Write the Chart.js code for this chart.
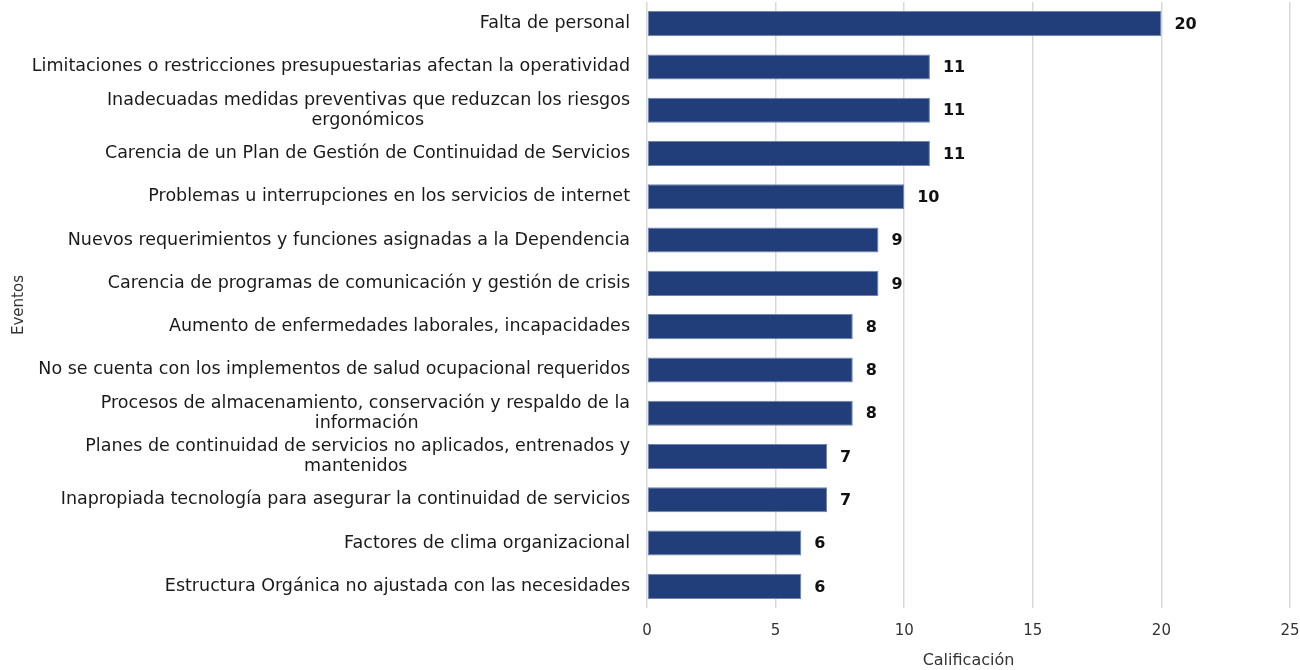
<!DOCTYPE html>
<html>
<head>
<meta charset="utf-8">
<script src="https://cdn.jsdelivr.net/npm/chart.js@4"></script>
<style>
html,body{margin:0;padding:0;background:#fff;}
#wrap{width:1300px;height:670px;}
</style>
</head>
<body>
<div id="wrap"><canvas id="c" width="1300" height="670"></canvas></div>
<script>
const categories = [
  "Falta de personal",
  "Limitaciones o restricciones presupuestarias afectan la operatividad",
  ["Inadecuadas medidas preventivas que reduzcan los riesgos", "ergonómicos"],
  "Carencia de un Plan de Gestión de Continuidad de Servicios",
  "Problemas u interrupciones en los servicios de internet",
  "Nuevos requerimientos y funciones asignadas a la Dependencia",
  "Carencia de programas de comunicación y gestión de crisis",
  "Aumento de enfermedades laborales, incapacidades",
  "No se cuenta con los implementos de salud ocupacional requeridos",
  ["Procesos de almacenamiento, conservación y respaldo de la", "información"],
  ["Planes de continuidad de servicios no aplicados, entrenados y", "mantenidos"],
  "Inapropiada tecnología para asegurar la continuidad de servicios",
  "Factores de clima organizacional",
  "Estructura Orgánica no ajustada con las necesidades"
];
const values = [20, 11, 11, 11, 10, 9, 9, 8, 8, 8, 7, 7, 6, 6];
const xTicks = [0, 5, 10, 15, 20, 25];

const FONT = "'DejaVu Sans', Verdana, sans-serif";
const Y_SIZE = 17.5;

// centre the second line of wrapped labels under the first (padding with spaces)
const mctx = document.createElement('canvas').getContext('2d');
mctx.font = Y_SIZE + "px " + FONT;
function centreLines(lbl) {
  if (!Array.isArray(lbl)) return lbl;
  const w1 = mctx.measureText(lbl[0]).width;
  return lbl.map((l, i) => {
    if (i === 0) return l;
    const w = mctx.measureText(l).width;
    const sp = mctx.measureText(' ').width;
    const n = Math.max(0, Math.round((w1 - w) / 2 / sp));
    return l + ' '.repeat(n);
  });
}

const valueLabels = {
  id: 'valueLabels',
  afterDatasetsDraw(chart) {
    const ctx = chart.ctx;
    const meta = chart.getDatasetMeta(0);
    ctx.save();
    ctx.font = "bold 16px " + FONT;
    ctx.fillStyle = "#111";
    ctx.textAlign = "left";
    ctx.textBaseline = "middle";
    meta.data.forEach((bar, i) => {
      ctx.fillText(String(values[i]), bar.x + 13, bar.y + 1);
    });
    ctx.restore();
  }
};

new Chart(document.getElementById('c'), {
  type: 'bar',
  data: {
    labels: categories,
    datasets: [{
      data: values,
      backgroundColor: '#223e7a',
      borderColor: '#6f84b0',
      borderWidth: 1,
      borderSkipped: false,
      barPercentage: 0.58,
      categoryPercentage: 1.0
    }]
  },
  options: {
    indexAxis: 'y',
    responsive: false,
    animation: false,
    layout: { padding: { top: 2, right: 10, left: 10, bottom: 0 } },
    plugins: { legend: { display: false }, tooltip: { enabled: false } },
    scales: {
      x: {
        min: 0, max: 25,
        afterBuildTicks(scale) { scale.ticks = xTicks.map(v => ({ value: v })); },
        afterFit(scale) { scale.height = 62; scale.paddingLeft = 0; scale.paddingRight = 0; },
        grid: { color: '#d9d9d9', lineWidth: 1.5, drawTicks: false },
        border: { display: false },
        ticks: { padding: 14, color: '#333', font: { family: FONT, size: 15 } },
        title: { display: true, text: 'Calificación', color: '#333', font: { family: FONT, size: 16 }, padding: { top: 8, bottom: 0 } }
      },
      y: {
        afterFit(scale) { scale.width = 637; scale.paddingTop = 0; scale.paddingBottom = 0; },
        grid: { display: false, drawTicks: false },
        border: { display: false },
        ticks: {
          autoSkip: false, padding: 17, color: '#1a1a1a',
          font: { family: FONT, size: Y_SIZE, lineHeight: 1.15 },
          callback(value, index) { return centreLines(categories[index]); }
        },
        title: { display: true, text: 'Eventos', color: '#333', font: { family: FONT, size: 15 }, padding: { top: 0, bottom: 0 } }
      }
    }
  },
  plugins: [valueLabels]
});
</script>
</body>
</html>
